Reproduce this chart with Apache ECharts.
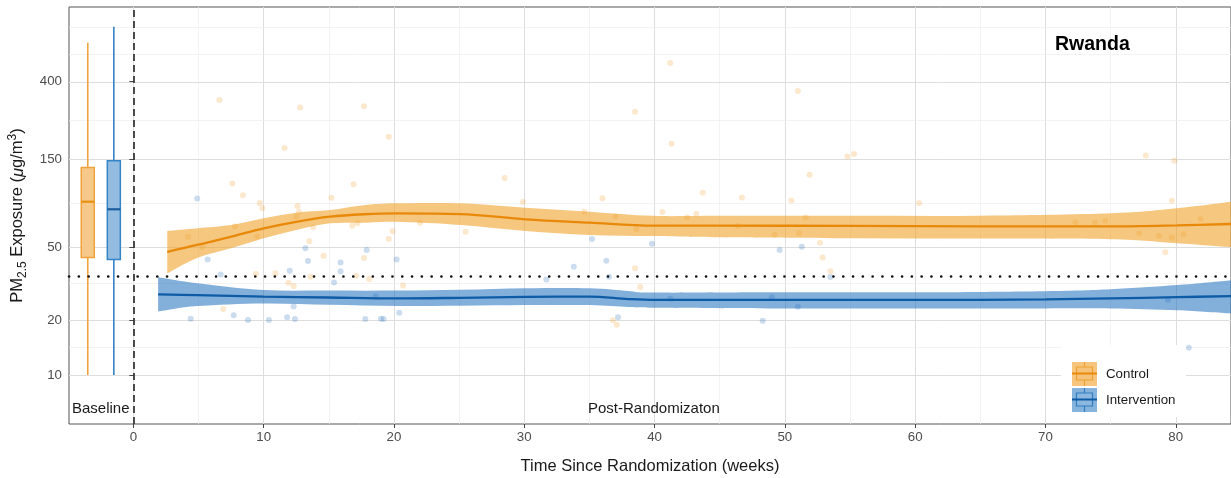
<!DOCTYPE html>
<html><head><meta charset="utf-8">
<script src="https://cdn.jsdelivr.net/npm/echarts@6/dist/echarts.min.js"></script>
<style>html,body{margin:0;padding:0;background:#fff}#c{width:1231px;height:478px}</style>
</head><body><div id="c"></div>
<script>
// ---------- DATA ----------
const xTickValues = [0, 10, 20, 30, 40, 50, 60, 70, 80];
const xMinorValues = [5, 15, 25, 35, 45, 55, 65, 75];
const yTickValues = [10, 20, 50, 150, 400];
const yMinorValues = [14.14, 31.62, 86.6, 244.9, 565.7, 800];
const whoTarget = 35;
const randomizationWeek = 0;

const groupNames = ['Control', 'Intervention'];
const baselinePositions = [-3.5, -1.5];
// [lower whisker, q1, median, q3, upper whisker]
const baselineControl = [10, 43.9, 88.4, 136, 653];
const baselineIntervention = [10, 42.8, 80.4, 148, 799];

const controlPoints = [[6.6,318],[12.8,289],[11.6,174],[7.6,111],[8.4,96],[17.7,294],[19.6,200],[16.9,110],[15.2,93],[9.7,87],[9.9,81.4],[12.6,83.8],[12.7,78],[12.5,73.2],[28.5,119],[29.9,88],[38.5,274],[41.2,506],[41.3,183],[36.0,92.3],[34.6,78],[37.0,73.4],[40.6,77.7],[51.0,356],[54.8,156],[55.3,161],[51.9,124],[43.7,99],[46.7,93.2],[50.5,89.7],[60.3,87],[42.5,72.5],[43.2,76],[51.6,72.5],[46.4,65.1],[49.2,58.4],[51.1,59.7],[52.7,52.8],[52.9,43.9],[53.5,36.9],[77.7,158],[79.9,148],[79.7,89.4],[72.3,68.3],[73.8,68.1],[74.6,69.6],[81.9,71.1],[77.2,59.4],[78.7,57.6],[79.7,56.4],[80.6,58.7],[79.2,46.8],[22.0,67.9],[25.5,60.6],[38.6,62.5],[38.5,38.3],[38.9,30.2],[20.7,30.8],[36.8,19.9],[37.1,18.8],[7.8,64.7],[4.2,56.9],[9.5,57.1],[13.8,64.1],[16.8,65.4],[17.2,67.4],[13.5,53.7],[14.6,44.8],[19.9,60.9],[19.6,55.3],[17.7,43.6],[9.4,35.6],[10.9,35.9],[13.6,34.4],[17.1,34.8],[18.1,33.4],[11.9,31.9],[12.3,30.6],[6.9,22.9],[5.3,50.0]];
const interventionPoints = [[4.9,92],[5.7,42.8],[6.7,35.4],[13.2,49.2],[13.4,41.9],[12.0,37.1],[15.9,41.2],[15.9,36.9],[17.9,48.2],[15.4,32.0],[20.2,42.7],[12.3,23.7],[18.6,26.9],[20.4,21.9],[4.4,20.3],[7.7,21.2],[8.8,20.0],[10.4,20.0],[11.8,20.7],[12.4,20.2],[17.8,20.2],[19.0,20.3],[19.2,20.2],[31.7,33.2],[33.8,39.0],[35.2,55.3],[36.3,42.1],[36.5,34.4],[37.2,20.7],[39.8,52.1],[41.2,26.1],[49.6,48.2],[51.3,50.2],[53.5,34.3],[49.0,26.6],[51.0,23.6],[48.3,19.8],[79.4,25.8],[81.0,14.1]];

const controlSmoothWeeks = [2.6, 4.9, 7.5, 10, 12.5, 15.1, 17.7, 20.2, 25.1, 30.1, 35.0, 39.9, 45, 55, 65, 75, 80.1, 84.3];
const controlSmoothFit   = [47.1, 51.3, 57.0, 63.3, 68.7, 73.2, 75.5, 76.4, 75.7, 70.8, 67.9, 65.4, 65.4, 65.2, 64.8, 64.8, 65.6, 66.8];
const controlSmoothLow   = [35.9, 43.6, 49.2, 55.8, 62.0, 67.4, 67.9, 68.7, 66.0, 61.2, 58.2, 57.4, 56.5, 55.8, 55.6, 55.1, 52.4, 49.8];
const controlSmoothHigh  = [61.2, 63.3, 66.0, 71.7, 77.0, 79.6, 84.6, 86.6, 86.6, 82.0, 78.0, 74.0, 74.1, 74.1, 74.1, 76.4, 81.4, 88.4];

const interventionSmoothWeeks = [1.9, 4.9, 10, 15, 20.2, 25.1, 30.1, 35.0, 38, 40, 50, 60, 70, 75, 80.1, 84.3];
const interventionSmoothFit   = [27.6, 27.3, 26.8, 26.5, 26.2, 26.4, 26.7, 26.8, 26.0, 25.7, 25.7, 25.7, 25.9, 26.2, 26.6, 27.0];
const interventionSmoothLow   = [22.2, 23.8, 24.6, 24.2, 23.8, 23.9, 24.1, 24.1, 23.5, 23.3, 23.1, 23.1, 23.1, 23.1, 22.6, 21.7];
const interventionSmoothHigh  = [34.2, 31.7, 29.1, 28.9, 28.9, 29.2, 29.8, 29.8, 28.8, 28.2, 28.3, 28.3, 28.7, 29.4, 31.0, 33.0];

// ---------- BUILD ----------
const L = v => Math.log10(v);
const FONT = "'Liberation Sans', Arial, Helvetica, sans-serif";
const COL = {
  cLine: '#E8890A', cBand: 'rgba(240,158,35,0.58)', cPt: 'rgba(236,150,30,0.28)',
  cBoxFill: '#F6C88A', cBoxStroke: '#EFA33C', cMed: '#E8900F',
  iLine: '#0E5BA6', iBand: 'rgba(30,110,190,0.55)', iPt: 'rgba(40,110,190,0.30)',
  iBoxFill: '#93BCE0', iBoxStroke: '#3584C6', iMed: '#1B5E9F'
};

const toXY = pts => pts.map(p => [p[0], L(p[1])]);
const lineData = (w, v) => w.map((x, i) => [x, L(v[i])]);
const bandRows = (w, lo, hi) => w.map((x, i) => [x, L(lo[i]), L(hi[i])]);

const gridLines = [];
xTickValues.forEach(v => gridLines.push({xAxis: v, lineStyle: {color: '#DDDDDD', width: 1, type: 'solid'}}));
xMinorValues.forEach(v => gridLines.push({xAxis: v, lineStyle: {color: '#EEEEEE', width: 0.7, type: 'solid'}}));
yTickValues.forEach(v => gridLines.push({yAxis: L(v), lineStyle: {color: '#DDDDDD', width: 1, type: 'solid'}}));
yMinorValues.forEach(v => gridLines.push({yAxis: L(v), lineStyle: {color: '#EEEEEE', width: 0.7, type: 'solid'}}));

const boxData = [
  [baselinePositions[0]].concat(baselineControl.map(L)),
  [baselinePositions[1]].concat(baselineIntervention.map(L))
];
const boxStyles = [
  {fill: COL.cBoxFill, stroke: COL.cBoxStroke, med: COL.cMed},
  {fill: COL.iBoxFill, stroke: COL.iBoxStroke, med: COL.iMed}
];

function renderBox(params, api) {
  const x = api.value(0);
  const pLow = api.coord([x, api.value(1)]);
  const pQ1 = api.coord([x, api.value(2)]);
  const pMed = api.coord([x, api.value(3)]);
  const pQ3 = api.coord([x, api.value(4)]);
  const pHigh = api.coord([x, api.value(5)]);
  const halfW = api.size([1, 0])[0] / 2;
  const st = boxStyles[params.dataIndex];
  return {
    type: 'group',
    children: [
      {type: 'line', shape: {x1: pHigh[0], y1: pHigh[1], x2: pQ3[0], y2: pQ3[1]}, style: {stroke: st.stroke, lineWidth: 1.6}},
      {type: 'line', shape: {x1: pQ1[0], y1: pQ1[1], x2: pLow[0], y2: pLow[1]}, style: {stroke: st.stroke, lineWidth: 1.6}},
      {type: 'rect', shape: {x: pQ3[0] - halfW, y: pQ3[1], width: 2 * halfW, height: pQ1[1] - pQ3[1]}, style: {fill: st.fill, stroke: st.stroke, lineWidth: 1.5}},
      {type: 'line', shape: {x1: pMed[0] - halfW, y1: pMed[1], x2: pMed[0] + halfW, y2: pMed[1]}, style: {stroke: st.med, lineWidth: 2.2}}
    ]
  };
}

// Catmull-Rom to cubic Bezier through pixel points
function curveThrough(pts) {
  let d = '';
  for (let i = 0; i < pts.length - 1; i++) {
    const p0 = pts[i - 1] || pts[i], p1 = pts[i], p2 = pts[i + 1], p3 = pts[i + 2] || pts[i + 1];
    const t = 1 / 6;
    const c1x = p1[0] + (p2[0] - p0[0]) * t, c1y = p1[1] + (p2[1] - p0[1]) * t;
    const c2x = p2[0] - (p3[0] - p1[0]) * t, c2y = p2[1] - (p3[1] - p1[1]) * t;
    d += ' C' + c1x + ',' + c1y + ' ' + c2x + ',' + c2y + ' ' + p2[0] + ',' + p2[1];
  }
  return d;
}

function makeBandRenderer(rows, color) {
  return function (params, api) {
    if (params.dataIndex !== 0) return null;
    const upper = rows.map(r => api.coord([r[0], r[2]]));
    const lower = rows.map(r => api.coord([r[0], r[1]])).reverse();
    const d = 'M' + upper[0][0] + ',' + upper[0][1] + curveThrough(upper) +
      ' L' + lower[0][0] + ',' + lower[0][1] + curveThrough(lower) + ' Z';
    return {type: 'path', shape: {pathData: d}, style: {fill: color, stroke: null}};
  };
}

function legendKey(y, band, boxFill, boxStroke, line) {
  const x = 1072;
  return [
    {type: 'rect', shape: {x: x, y: y, width: 25, height: 24}, style: {fill: band}, z: 20},
    {type: 'line', shape: {x1: x + 12.5, y1: y, x2: x + 12.5, y2: y + 5}, style: {stroke: boxStroke, lineWidth: 1.2}, z: 21},
    {type: 'line', shape: {x1: x + 12.5, y1: y + 18, x2: x + 12.5, y2: y + 24}, style: {stroke: boxStroke, lineWidth: 1.2}, z: 21},
    {type: 'rect', shape: {x: x + 4.5, y: y + 5, width: 16, height: 13}, style: {fill: boxFill, stroke: boxStroke, lineWidth: 1.2}, z: 21},
    {type: 'line', shape: {x1: x, y1: y + 11.5, x2: x + 25, y2: y + 11.5}, style: {stroke: line, lineWidth: 2}, z: 22}
  ];
}

const controlBand = bandRows(controlSmoothWeeks, controlSmoothLow, controlSmoothHigh);
const interventionBand = bandRows(interventionSmoothWeeks, interventionSmoothLow, interventionSmoothHigh);

const chart = echarts.init(document.getElementById('c'), null, {renderer: 'canvas'});
chart.setOption({
  animation: false,
  backgroundColor: '#ffffff',
  textStyle: {fontFamily: FONT},
  grid: {left: 69, right: 0, top: 7, bottom: 54, show: true, borderColor: '#555555', borderWidth: 1, backgroundColor: '#ffffff', containLabel: false, outerBoundsMode: 'none'},
  xAxis: {
    type: 'value', min: -4.94, max: 84.24,
    name: 'Time Since Randomization (weeks)', nameLocation: 'middle', nameGap: 34,
    nameTextStyle: {fontSize: 16.5, color: '#1a1a1a', fontFamily: FONT},
    axisLine: {show: false},
    splitLine: {show: false},
    axisTick: {show: true, length: 4, lineStyle: {color: '#444'}, customValues: xTickValues},
    axisLabel: {color: '#4d4d4d', fontSize: 13.3, margin: 7, customValues: xTickValues, formatter: v => String(Math.round(v)), fontFamily: FONT}
  },
  yAxis: {
    type: 'value', min: 0.7324, max: 3.010,
    name: '{n|PM}{sub|2.5}{n| Exposure (}{it|μ}{n|g/m}{sup|3}{n|)}',
    nameLocation: 'middle', nameGap: 40, nameRotate: 90,
    nameTextStyle: {
      fontSize: 16.5, color: '#1a1a1a', fontFamily: FONT,
      rich: {
        n: {fontSize: 16.5, color: '#1a1a1a', fontFamily: FONT, lineHeight: 22},
        it: {fontSize: 16.5, color: '#1a1a1a', fontFamily: FONT, fontStyle: 'italic', lineHeight: 22},
        sub: {fontSize: 12, color: '#1a1a1a', fontFamily: FONT, verticalAlign: 'bottom', lineHeight: 22, padding: [7, 0, 0, 0]},
        sup: {fontSize: 12, color: '#1a1a1a', fontFamily: FONT, verticalAlign: 'top', lineHeight: 22, padding: [0, 0, 7, 0]}
      }
    },
    axisLine: {show: false},
    splitLine: {show: false},
    axisTick: {show: true, length: 4, lineStyle: {color: '#444'}, customValues: yTickValues.map(L)},
    axisLabel: {color: '#4d4d4d', fontSize: 13.3, margin: 7, customValues: yTickValues.map(L), formatter: v => String(Math.round(Math.pow(10, v))), fontFamily: FONT}
  },
  series: [
    {type: 'line', name: 'grid', data: [], z: 0, silent: true,
     markLine: {z: 0, silent: true, symbol: ['none', 'none'], label: {show: false}, animation: false, data: gridLines}},
    {type: 'scatter', name: 'Control points', data: toXY(controlPoints), symbolSize: 6, itemStyle: {color: COL.cPt}, z: 2, silent: true},
    {type: 'scatter', name: 'Intervention points', data: toXY(interventionPoints), symbolSize: 6, itemStyle: {color: COL.iPt}, z: 2, silent: true},
    {type: 'custom', name: 'Control band', data: controlBand, encode: {x: 0, y: [1, 2]}, renderItem: makeBandRenderer(controlBand, COL.cBand), clip: true, z: 3, silent: true},
    {type: 'custom', name: 'Intervention band', data: interventionBand, encode: {x: 0, y: [1, 2]}, renderItem: makeBandRenderer(interventionBand, COL.iBand), clip: true, z: 3, silent: true},
    {type: 'line', name: 'Control', data: lineData(controlSmoothWeeks, controlSmoothFit), smooth: 0.35, symbol: 'none', lineStyle: {color: COL.cLine, width: 2.3}, z: 4, silent: true},
    {type: 'line', name: 'Intervention', data: lineData(interventionSmoothWeeks, interventionSmoothFit), smooth: 0.35, symbol: 'none', lineStyle: {color: COL.iLine, width: 2.3}, z: 4, silent: true},
    {type: 'custom', name: 'Baseline', data: boxData, encode: {x: 0, y: [1, 2, 3, 4, 5]}, renderItem: renderBox, z: 4, silent: true, clip: true},
    {type: 'line', name: 'refs', data: [], z: 6, silent: true,
     markLine: {z: 6, silent: true, symbol: ['none', 'none'], label: {show: false}, animation: false, data: [
       {xAxis: randomizationWeek, lineStyle: {color: '#222222', width: 1.6, type: [7, 4]}},
       {yAxis: L(whoTarget), lineStyle: {color: '#111111', width: 2.6, type: [0.1, 9.7], cap: 'round'}}
     ]}}
  ],
  graphic: [
    {type: 'text', left: 1055, top: 35, style: {text: 'Rwanda', font: "bold 19.5px " + FONT, fill: '#000'}, z: 20},
    {type: 'text', left: 72, top: 401, style: {text: 'Baseline', font: "15px " + FONT, fill: '#1a1a1a'}, z: 20},
    {type: 'text', left: 588, top: 401, style: {text: 'Post-Randomizaton', font: "15px " + FONT, fill: '#1a1a1a'}, z: 20},
    {type: 'rect', shape: {x: 1061, y: 345, width: 125, height: 72}, style: {fill: '#ffffff'}, z: 19},
    ...legendKey(362, '#F6C67F', '#F5C27A', '#F0A030', COL.cLine),
    ...legendKey(388, '#86B3DC', '#8CB7DE', '#2F7FC2', COL.iLine),
    {type: 'text', left: 1106, top: 368, style: {text: groupNames[0], font: "13.3px " + FONT, fill: '#1a1a1a'}, z: 22},
    {type: 'text', left: 1106, top: 394, style: {text: groupNames[1], font: "13.3px " + FONT, fill: '#1a1a1a'}, z: 22}
  ]
});
</script>
</body></html>
